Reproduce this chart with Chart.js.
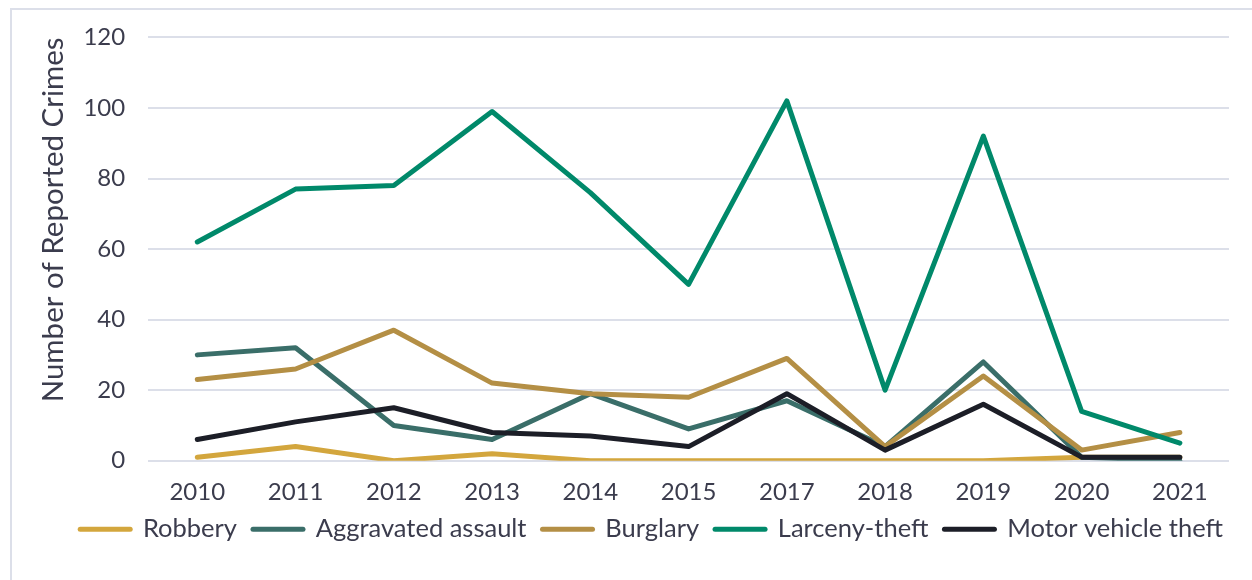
<!DOCTYPE html>
<html>
<head>
<meta charset="utf-8">
<script src="https://cdn.jsdelivr.net/npm/chart.js@4.4.0/dist/chart.umd.min.js"></script>
<style>
  html, body { margin: 0; padding: 0; background: #ffffff; overflow: hidden; }
  #frame { position: absolute; left: 10px; top: 8px; width: 1400px; height: 700px; border: 2px solid #dcdfe9; box-sizing: border-box; }
  #wrap { position: absolute; left: 0; top: 0; width: 1252px; height: 580px; }
</style>
</head>
<body>
<div id="frame"></div>
<div id="wrap"><canvas id="c"></canvas></div>
<script>
const years = ['2010','2011','2012','2013','2014','2015','2017','2018','2019','2020','2021'];
const robbery = [1, 4, 0, 2, 0, 0, 0, 0, 0, 1, 1];
const aggravatedAssault = [30, 32, 10, 6, 19, 9, 17, 4, 28, 1, 0];
const burglary = [23, 26, 37, 22, 19, 18, 29, 4, 24, 3, 8];
const larcenyTheft = [62, 77, 78, 99, 76, 50, 102, 20, 92, 14, 5];
const motorVehicleTheft = [6, 11, 15, 8, 7, 4, 19, 3, 16, 1, 1];
const yTicks = [0, 20, 40, 60, 80, 100, 120];

const seriesNames = ['Robbery', 'Aggravated assault', 'Burglary', 'Larceny-theft', 'Motor vehicle theft'];
const seriesData = [robbery, aggravatedAssault, burglary, larcenyTheft, motorVehicleTheft];
const seriesColors = ['#d3a63d', '#3a6e69', '#b48f45', '#00896a', '#1c1e27'];

const FONT = 'Lato, "Open Sans", sans-serif';
const TEXT = '#3b3c4d';

const legendShift = {
  id: 'legendShift',
  afterLayout(chart) {
    if (chart.legend) { chart.legend.left += 10; chart.legend.right += 10; }
  }
};

new Chart(document.getElementById('c'), {
  type: 'line',
  data: {
    labels: years,
    datasets: seriesNames.map((n, i) => ({
      label: n,
      data: seriesData[i],
      borderColor: seriesColors[i],
      backgroundColor: seriesColors[i],
      borderWidth: 5,
      borderCapStyle: 'round',
      borderJoinStyle: 'round',
      pointRadius: 0,
      pointHoverRadius: 0,
      tension: 0,
      fill: false,
      order: seriesNames.length - i
    }))
  },
  plugins: [legendShift],
  options: {
    responsive: true,
    maintainAspectRatio: false,
    animation: false,
    layout: { padding: { left: 36, right: 23, top: 33, bottom: 28 } },
    plugins: {
      tooltip: { enabled: false },
      legend: {
        position: 'bottom',
        align: 'end',
        labels: {
          font: { family: FONT, size: 25.5 },
          color: TEXT,
          usePointStyle: true,
          pointStyleWidth: 50,
          boxHeight: 5,
          padding: 16,
          sort: (a, b) => a.datasetIndex - b.datasetIndex,
          generateLabels: (chart) => chart.data.datasets.map((ds, i) => ({
            text: ds.label,
            datasetIndex: i,
            fillStyle: ds.borderColor,
            strokeStyle: ds.borderColor,
            lineWidth: 5,
            lineCap: 'round',
            pointStyle: 'line',
            fontColor: TEXT,
            hidden: false
          }))
        }
      }
    },
    scales: {
      x: {
        offset: true,
        grid: { display: false, drawTicks: false },
        border: { display: false },
        ticks: { font: { family: FONT, size: 24 }, color: TEXT, padding: 17, maxRotation: 0 },
        afterFit: (axis) => { axis.height -= 23; }
      },
      y: {
        min: 0,
        max: 120,
        afterBuildTicks: (axis) => { axis.ticks = yTicks.map(v => ({ value: v })); },
        grid: { color: '#dcdfe9', lineWidth: 2, drawTicks: false },
        border: { display: false },
        ticks: { font: { family: FONT, size: 24 }, color: TEXT, padding: 23 },
        title: {
          display: true,
          text: 'Number of Reported Crimes',
          align: 'end',
          font: { family: FONT, size: 29.5 },
          color: TEXT,
          padding: { top: 0, bottom: 19 }
        },
        afterFit: (axis) => { axis.width -= 30; }
      }
    }
  }
});
</script>
</body>
</html>
